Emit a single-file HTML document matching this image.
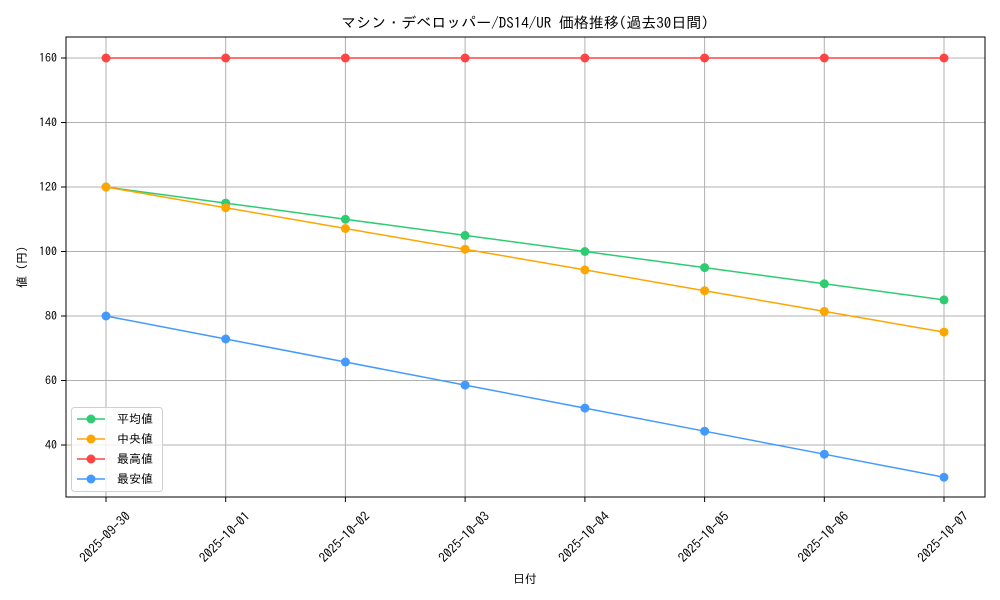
<!DOCTYPE html>
<html><head><meta charset="utf-8"><style>body{margin:0;background:#fff}svg{display:block}text{font-family:"IPAGothic","Liberation Sans","Noto Sans CJK JP",sans-serif;fill:#000}</style></head><body>
<svg width="1000" height="600" viewBox="0 0 1000 600">
<g stroke="#b0b0b0" stroke-width="1">
<line x1="106" y1="37" x2="106" y2="497"/><line x1="225.7" y1="37" x2="225.7" y2="497"/><line x1="345.4" y1="37" x2="345.4" y2="497"/><line x1="465.1" y1="37" x2="465.1" y2="497"/><line x1="584.9" y1="37" x2="584.9" y2="497"/><line x1="704.6" y1="37" x2="704.6" y2="497"/><line x1="824.3" y1="37" x2="824.3" y2="497"/><line x1="944" y1="37" x2="944" y2="497"/>
<line x1="66" y1="58" x2="985" y2="58"/><line x1="66" y1="122.5" x2="985" y2="122.5"/><line x1="66" y1="187" x2="985" y2="187"/><line x1="66" y1="251.5" x2="985" y2="251.5"/><line x1="66" y1="316" x2="985" y2="316"/><line x1="66" y1="380.5" x2="985" y2="380.5"/><line x1="66" y1="445" x2="985" y2="445"/>
</g>
<g stroke="#000" stroke-width="1">
<line x1="106" y1="497" x2="106" y2="502"/><line x1="225.7" y1="497" x2="225.7" y2="502"/><line x1="345.4" y1="497" x2="345.4" y2="502"/><line x1="465.1" y1="497" x2="465.1" y2="502"/><line x1="584.9" y1="497" x2="584.9" y2="502"/><line x1="704.6" y1="497" x2="704.6" y2="502"/><line x1="824.3" y1="497" x2="824.3" y2="502"/><line x1="944" y1="497" x2="944" y2="502"/>
<line x1="61" y1="58" x2="66" y2="58"/><line x1="61" y1="122.5" x2="66" y2="122.5"/><line x1="61" y1="187" x2="66" y2="187"/><line x1="61" y1="251.5" x2="66" y2="251.5"/><line x1="61" y1="316" x2="66" y2="316"/><line x1="61" y1="380.5" x2="66" y2="380.5"/><line x1="61" y1="445" x2="66" y2="445"/>
</g>
<g font-size="12" text-anchor="end">
<text x="57" y="62">160</text><text x="57" y="126.5">140</text><text x="57" y="191">120</text><text x="57" y="255.5">100</text><text x="57" y="320">80</text><text x="57" y="384.5">60</text><text x="57" y="449">40</text>
</g>
<g font-size="13" text-anchor="middle" dominant-baseline="central">
<text transform="translate(105,537) rotate(-45)">2025-09-30</text>
<text transform="translate(224.7,537) rotate(-45)">2025-10-01</text>
<text transform="translate(344.4,537) rotate(-45)">2025-10-02</text>
<text transform="translate(464.1,537) rotate(-45)">2025-10-03</text>
<text transform="translate(583.9,537) rotate(-45)">2025-10-04</text>
<text transform="translate(703.6,537) rotate(-45)">2025-10-05</text>
<text transform="translate(823.3,537) rotate(-45)">2025-10-06</text>
<text transform="translate(943,537) rotate(-45)">2025-10-07</text>
</g>
<text x="525" y="583" font-size="12" text-anchor="middle">日付</text>
<text transform="translate(26,267) rotate(-90)" font-size="12" text-anchor="middle">値 (円)</text>
<text x="525" y="28" font-size="15" text-anchor="middle">マシン・デベロッパー/DS14/UR 価格推移(過去30日間)</text>
<g fill="none" stroke-width="1.5">
<polyline stroke="#ff4444" points="106,58 944,58"/>
<polyline stroke="#2ecc71" points="106,187 225.7,203.1 345.4,219.25 465.1,235.4 584.9,251.5 704.6,267.6 824.3,283.75 944,299.9"/>
<polyline stroke="#ffa500" points="106,187 225.7,207.7 345.4,228.5 465.1,249.2 584.9,269.9 704.6,290.7 824.3,311.4 944,332.1"/>
<polyline stroke="#4499ff" points="106,316 225.7,339 345.4,362 465.1,385.1 584.9,408.1 704.6,431.2 824.3,454.2 944,477.25"/>
</g>
<g fill="#ff4444"><circle cx="106" cy="58" r="4.5"/><circle cx="225.7" cy="58" r="4.5"/><circle cx="345.4" cy="58" r="4.5"/><circle cx="465.1" cy="58" r="4.5"/><circle cx="584.9" cy="58" r="4.5"/><circle cx="704.6" cy="58" r="4.5"/><circle cx="824.3" cy="58" r="4.5"/><circle cx="944" cy="58" r="4.5"/></g>
<g fill="#2ecc71"><circle cx="106" cy="187" r="4.5"/><circle cx="225.7" cy="203.1" r="4.5"/><circle cx="345.4" cy="219.25" r="4.5"/><circle cx="465.1" cy="235.4" r="4.5"/><circle cx="584.9" cy="251.5" r="4.5"/><circle cx="704.6" cy="267.6" r="4.5"/><circle cx="824.3" cy="283.75" r="4.5"/><circle cx="944" cy="299.9" r="4.5"/></g>
<g fill="#ffa500"><circle cx="106" cy="187" r="4.5"/><circle cx="225.7" cy="207.7" r="4.5"/><circle cx="345.4" cy="228.5" r="4.5"/><circle cx="465.1" cy="249.2" r="4.5"/><circle cx="584.9" cy="269.9" r="4.5"/><circle cx="704.6" cy="290.7" r="4.5"/><circle cx="824.3" cy="311.4" r="4.5"/><circle cx="944" cy="332.1" r="4.5"/></g>
<g fill="#4499ff"><circle cx="106" cy="316" r="4.5"/><circle cx="225.7" cy="339" r="4.5"/><circle cx="345.4" cy="362" r="4.5"/><circle cx="465.1" cy="385.1" r="4.5"/><circle cx="584.9" cy="408.1" r="4.5"/><circle cx="704.6" cy="431.2" r="4.5"/><circle cx="824.3" cy="454.2" r="4.5"/><circle cx="944" cy="477.25" r="4.5"/></g>
<rect x="66" y="37" width="919" height="460" fill="none" stroke="#000" stroke-width="1"/>
<rect x="71.5" y="407.5" width="91" height="84" rx="3" fill="#fff" fill-opacity="0.8" stroke="#d0d0d0"/>
<g stroke-width="1.5">
<line x1="77" y1="419" x2="105" y2="419" stroke="#2ecc71"/><circle cx="91" cy="419" r="4.5" fill="#2ecc71"/>
<line x1="77" y1="439" x2="105" y2="439" stroke="#ffa500"/><circle cx="91" cy="439" r="4.5" fill="#ffa500"/>
<line x1="77" y1="459" x2="105" y2="459" stroke="#ff4444"/><circle cx="91" cy="459" r="4.5" fill="#ff4444"/>
<line x1="77" y1="479" x2="105" y2="479" stroke="#4499ff"/><circle cx="91" cy="479" r="4.5" fill="#4499ff"/>
</g>
<g font-size="12"><text x="117" y="423">平均値</text><text x="117" y="443">中央値</text><text x="117" y="463">最高値</text><text x="117" y="483">最安値</text></g>
</svg>
</body></html>
